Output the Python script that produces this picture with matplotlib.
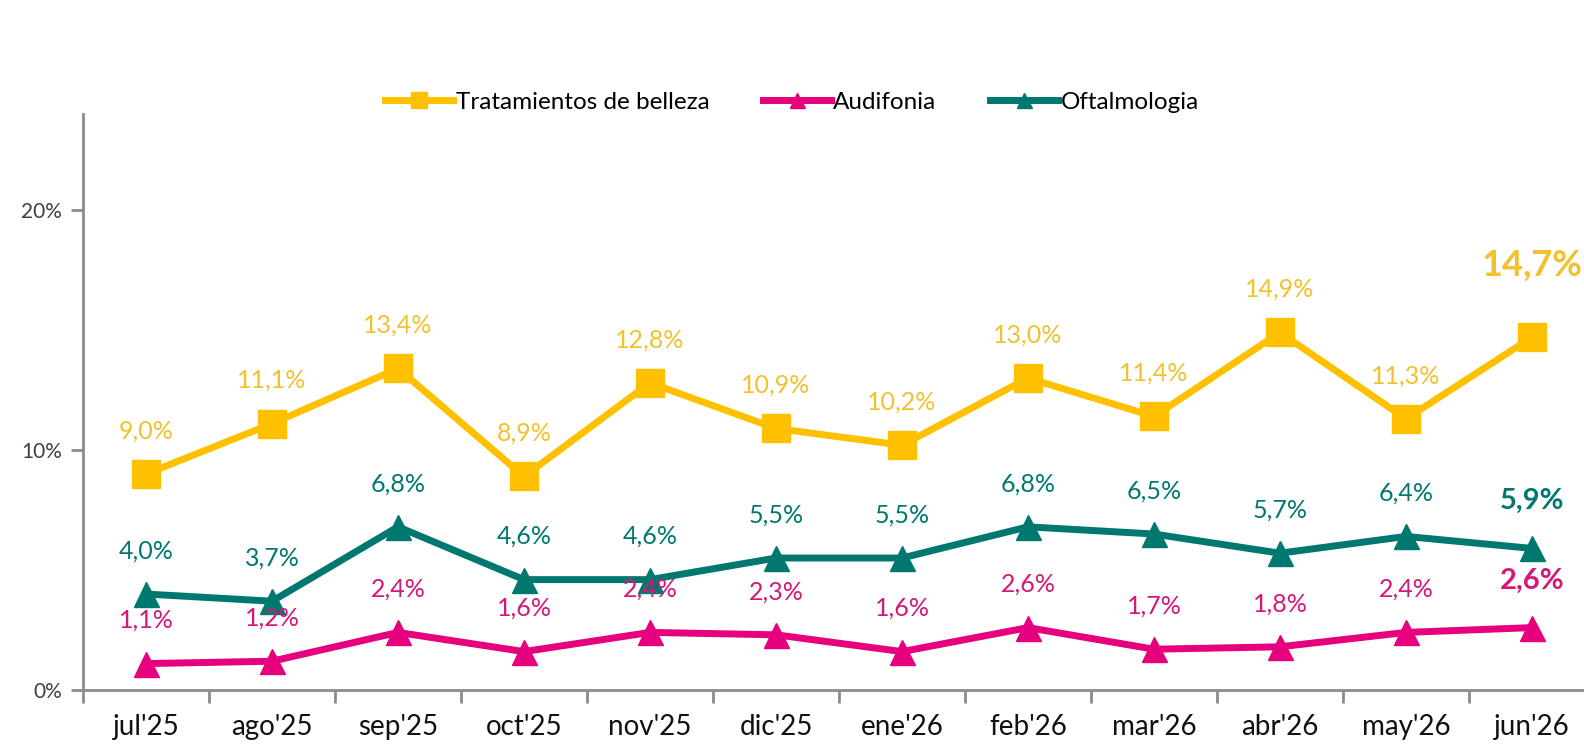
import matplotlib.pyplot as plt
import numpy as np

plt.rcParams['font.family'] = ['Lato', 'DejaVu Sans']

months = ["jul'25", "ago'25", "sep'25", "oct'25", "nov'25", "dic'25",
          "ene'26", "feb'26", "mar'26", "abr'26", "may'26", "jun'26"]
belleza = [9.0, 11.1, 13.4, 8.9, 12.8, 10.9, 10.2, 13.0, 11.4, 14.9, 11.3, 14.7]
audifonia = [1.1, 1.2, 2.4, 1.6, 2.4, 2.3, 1.6, 2.6, 1.7, 1.8, 2.4, 2.6]
oftalmologia = [4.0, 3.7, 6.8, 4.6, 4.6, 5.5, 5.5, 6.8, 6.5, 5.7, 6.4, 5.9]

c_yellow = '#FFC000'
c_yellow_txt = '#F2C12E'
c_pink = '#E6007E'
c_pink_txt = '#D4177A'
c_teal = '#00786F'
grey = '#8C8C8C'

fig = plt.figure(figsize=(15.84, 7.47), dpi=100)
ax = fig.add_axes([0.0524, 0.0763, 0.9545, 0.771])

x = np.arange(len(months))

series = [
    ('Tratamientos de belleza', belleza, c_yellow, c_yellow_txt, 's', 20),
    ('Audifonia', audifonia, c_pink, c_pink_txt, '^', 18),
    ('Oftalmologia', oftalmologia, c_teal, c_teal, '^', 18),
]

for name, vals, col, tcol, mk, ms in series:
    ax.plot(x, vals, color=col, lw=5, marker=mk, markersize=ms,
            markeredgecolor=col, label=name, clip_on=False)
    for i, v in enumerate(vals):
        last = i == len(vals) - 1
        lbl = f"{v:.1f}%".replace('.', ',')
        off = 31
        size = 18
        if last:
            off = 52 if name.startswith('Trat') else 34
            size = 26 if name.startswith('Trat') else 21
        ax.annotate(lbl, (x[i], v), xytext=(0, off), textcoords='offset points',
                    ha='center', va='center', color=tcol,
                    fontsize=size,
                    fontweight='bold' if last else 'normal')

ax.set_xlim(-0.5, 11.5)
ax.set_ylim(0, 24)
ax.set_yticks([0, 10, 20])
ax.set_yticklabels(['0%', '10%', '20%'], fontsize=15, color='#404040')
ax.set_xticks(x)
ax.set_xticklabels(months, fontsize=20, color='#111111')
ax.set_xticks(np.arange(-0.5, 12, 1), minor=True)
ax.tick_params(axis='x', which='major', length=0, pad=17)
ax.tick_params(axis='x', which='minor', length=9, width=2, color=grey, direction='out')
ax.tick_params(axis='y', length=9, width=2, color=grey, direction='out', pad=6)

for s in ['top', 'right']:
    ax.spines[s].set_visible(False)
for s in ['left', 'bottom']:
    ax.spines[s].set_color(grey)
    ax.spines[s].set_linewidth(2)

leg = fig.legend(loc='center', bbox_to_anchor=(0.5, 0.863), ncol=3, frameon=False,
                 fontsize=17.5, handlelength=2.8, columnspacing=2.2, handletextpad=0.1,
                 markerscale=0.6)

fig.savefig('out.png', dpi=100)
